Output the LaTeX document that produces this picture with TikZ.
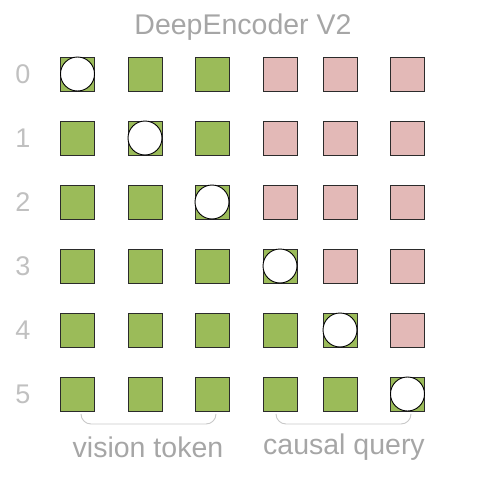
\documentclass[tikz,border=0pt]{standalone}
\usepackage{fontspec}
\setmainfont{Liberation Sans}
\usetikzlibrary{calc}
\definecolor{tokgreen}{HTML}{9BBB59}
\definecolor{qpink}{HTML}{E3B9B7}
\definecolor{edge}{HTML}{2B2B2B}
\definecolor{titlegray}{HTML}{A6A6A6}
\definecolor{rowgray}{HTML}{C0C0C0}
\definecolor{bracegray}{HTML}{C8C8C8}
\begin{document}
\begin{tikzpicture}[x=1pt,y=-1pt,
  cell/.style={draw=edge,line width=0.9pt,minimum size=34pt,inner sep=0pt,outer sep=0pt},
  vis/.style={cell,fill=tokgreen},
  qry/.style={cell,fill=qpink},
  dot/.style={circle,draw=black,line width=0.9pt,fill=white,minimum size=34pt,inner sep=0pt},
  lbl/.style={font=\fontsize{28.5}{28.5}\selectfont,text=titlegray,inner sep=0pt},
  rowlbl/.style={font=\fontsize{27}{27}\selectfont,text=rowgray,inner sep=0pt},
  brace/.style={draw=bracegray,line width=0.9pt,rounded corners=10pt}]
\useasboundingbox (0,0) rectangle (491,482);
\node[lbl] (title) at (243,27) {DeepEncoder V2};
\def\colxs{{77.5,145,212,280,340,407.5}}
\def\rowys{{74,138,202,266,330,394}}
\foreach \r in {0,...,5}{
  \pgfmathsetmacro{\yy}{\rowys[\r]}
  \node[rowlbl] (r\r) at (23,\yy) {\r};
  \foreach \c in {0,...,5}{
    \pgfmathsetmacro{\xx}{\colxs[\c]}
    \pgfmathtruncatemacro{\ispink}{(\c>2)&&(\c>\r)}
    \ifnum\ispink=1
      \node[qry] (s\r\c) at (\xx,\yy) {};
    \else
      \node[vis] (s\r\c) at (\xx,\yy) {};
    \fi
  }
  \node[dot] (d\r) at (s\r\r) {};
}
\draw[brace] ($(s50.south)+(3.5,3)$) -- ++(0,10) -| ($(s52.south)+(4,3)$);
\draw[brace] ($(s53.south)+(-4,3)$) -- ++(0,10) -| ($(s55.south)+(3.5,3)$);
\node[lbl] (vt) at (148,447) {vision token};
\node[lbl] (cq) at (344,447) {causal query};
\end{tikzpicture}
\end{document}
